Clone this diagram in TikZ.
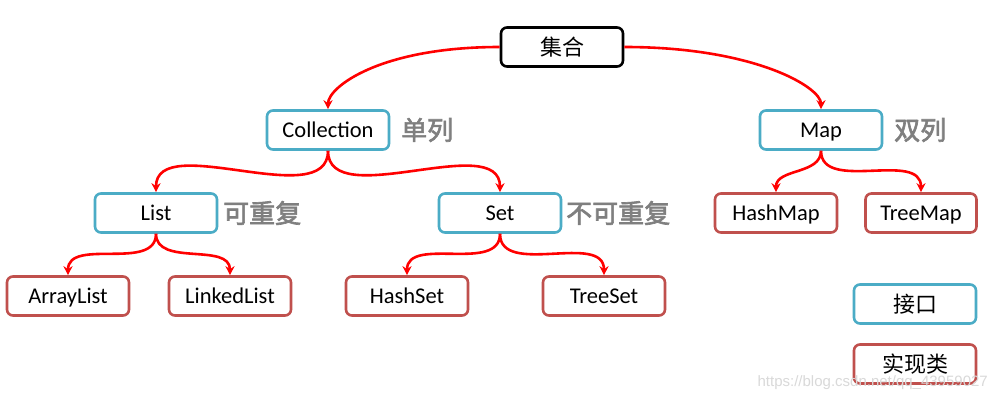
\documentclass[tikz,border=0pt]{standalone}
\usepackage{fontspec}
\setmainfont{Carlito}
\newfontfamily\cjk[AutoFakeBold=2.5]{Noto Sans CJK SC}
\usetikzlibrary{arrows.meta}
\definecolor{ifblue}{HTML}{4BACC6}
\definecolor{imred}{HTML}{C0504D}
\definecolor{notegray}{HTML}{7F7F7F}
\begin{document}
\begin{tikzpicture}[x=1pt,y=-1pt,
  frame/.style={draw, line width=2.6pt, rounded corners=6pt, minimum width=122pt, minimum height=39pt, fill=white, inner sep=0pt},
  box/.style={frame, font=\fontsize{22.5}{26}\selectfont, text height=14.5pt, text depth=0pt},
  root/.style={frame, draw=black, font=\cjk\fontsize{22}{26}\selectfont},
  iface/.style={box, draw=ifblue},
  impl/.style={box, draw=imred},
  lgiface/.style={frame, draw=ifblue, font=\cjk\fontsize{22}{26}\selectfont},
  lgimpl/.style={frame, draw=imred, font=\cjk\fontsize{22}{26}\selectfont},
  note/.style={font=\cjk\bfseries\fontsize{26}{30}\selectfont, text=notegray, anchor=west, inner sep=0pt},
  link/.style={draw=red, line width=2.6pt, -{Stealth[length=9pt,width=9pt]}},
]
\useasboundingbox (0,0) rectangle (998,403);
\fill[white] (0,0) rectangle (998,403);

\node[root] (jihe) at (562,47) {集合};
\node[iface] (coll) at (328,130) {Collection};
\node[iface] (map) at (821,130) {Map};
\node[iface] (list) at (156,213) {List};
\node[iface] (set) at (500,213) {Set};
\node[impl] (hashmap) at (776,213) {HashMap};
\node[impl, minimum width=111pt] (treemap) at (921,213) {TreeMap};
\node[impl] (arraylist) at (68,296) {ArrayList};
\node[impl] (linkedlist) at (230,296) {LinkedList};
\node[impl] (hashset) at (407,296) {HashSet};
\node[impl] (treeset) at (604,296) {TreeSet};
\node[lgiface] (lgif) at (915,304) {接口};
\node[lgimpl] (lgim) at (915,364) {实现类};

\node[note] (n1) at (401,130) {单列};
\node[note] (n2) at (894,130) {双列};
\node[note] (n3) at (223,213) {可重复};
\node[note] (n4) at (566,213) {不可重复};

\draw[link] (jihe.west) .. controls +(-120,0) and +(0,-22) .. (coll.north);
\draw[link] (jihe.east) .. controls +(130,0) and +(0,-22) .. (map.north);
\draw[link] (coll.south) to[out=-90,in=90,looseness=0.9] (list.north);
\draw[link] (coll.south) to[out=-90,in=90,looseness=0.9] (set.north);
\draw[link] (list.south) to[out=-90,in=90] (arraylist.north);
\draw[link] (list.south) to[out=-90,in=90] (linkedlist.north);
\draw[link] (set.south) to[out=-90,in=90] (hashset.north);
\draw[link] (set.south) to[out=-90,in=90] (treeset.north);
\draw[link] (map.south) to[out=-90,in=90] (hashmap.north);
\draw[link] (map.south) to[out=-90,in=90] (treemap.north);

\node[anchor=east, font=\fontspec{Liberation Sans}\fontsize{15}{18}\selectfont, text=black!15, inner sep=0pt] (wm) at (988,383) {https://blog.csdn.net/qq\_43959027};
\end{tikzpicture}
\end{document}
